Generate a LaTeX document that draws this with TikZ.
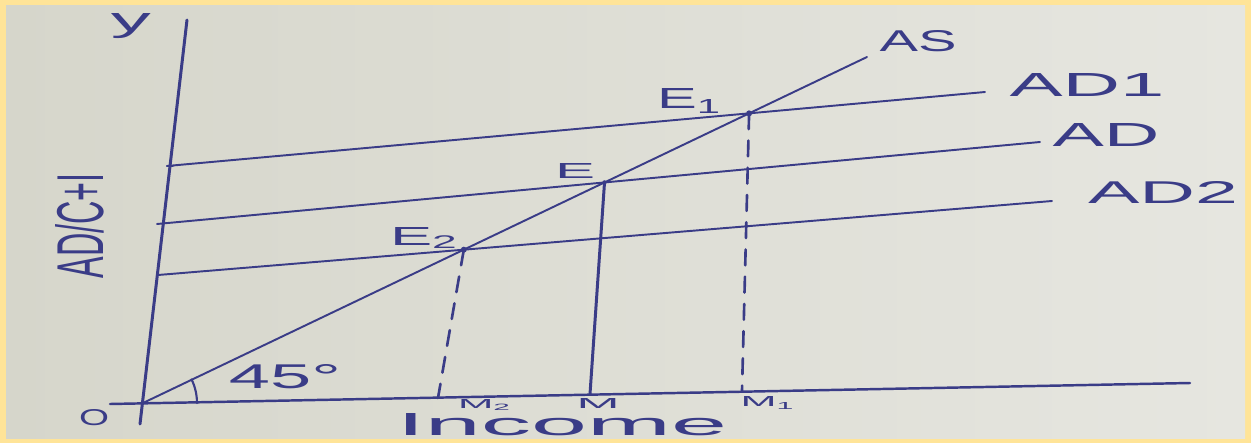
\documentclass[tikz,border=0pt]{standalone}
\usepackage{fontspec}
\setmainfont{Liberation Sans}
\usepackage{graphicx}
\usetikzlibrary{intersections}
\newlength\pxu
\setlength\pxu{0.02cm}
\newcommand\hw[3]{\resizebox{#1\pxu}{#2\pxu}{#3}}
\definecolor{borderc}{RGB}{255,228,152}
\definecolor{paperL}{RGB}{214,214,203}
\definecolor{paperR}{RGB}{230,230,224}
\definecolor{inkc}{RGB}{58,60,135}
\begin{document}
\begin{tikzpicture}[x=0.02cm,y=-0.02cm,
  ink/.style={draw=inkc,line cap=round},
  axisline/.style={ink,line width=1.7pt},
  curve/.style={ink,line width=1.1pt},
  dropdash/.style={ink,line width=1.5pt,dash pattern=on 9pt off 6.5pt},
  dropsolid/.style={ink,line width=1.7pt},
  lbl/.style={inner sep=0pt,text=inkc}]
\fill[borderc] (0,0) rectangle (1251,443);
\shade[left color=paperL,right color=paperR] (6,5) rectangle (1245,438);
\useasboundingbox (0,0) rectangle (1251,443);

% points
\coordinate (ytop) at (187,20);
\coordinate (ybot) at (140,424);
\coordinate (xl) at (110,404);
\coordinate (xr) at (1190,383);
\coordinate (O) at (143,403);
\coordinate (ASend) at (867,57);
\coordinate (AD1s) at (167,166);
\coordinate (AD1e) at (985,92);
\coordinate (ADs) at (157,224);
\coordinate (ADe) at (1040,142);
\coordinate (AD2s) at (158,275);
\coordinate (AD2e) at (1052,201);
\coordinate (M2f) at (438,398);
\coordinate (Mf) at (590,394);
\coordinate (M1f) at (742,391);

% axes
\draw[axisline] (ybot) -- (ytop);
\draw[ink,line width=1.4pt] (xl) -- (xr);

% curves
\draw[curve,name path=as] (O) -- (ASend);
\draw[curve,name path=ad1] (AD1s) -- (AD1e);
\draw[curve,name path=ad] (ADs) -- (ADe);
\draw[curve,name path=ad2] (AD2s) -- (AD2e);
\draw[ink,line width=1pt] (AD1s) -- ++(6,0);

\path[name intersections={of=as and ad1,by=E1p}];
\path[name intersections={of=as and ad,by=Ep}];
\path[name intersections={of=as and ad2,by=E2p}];

% drop lines
\draw[dropdash] (E2p) -- (M2f);
\draw[dropsolid] (Ep) -- (Mf);
\draw[dropdash] (E1p) -- (M1f);
\fill[inkc] (E1p) circle[radius=3];
\fill[inkc] (E2p) circle[radius=3];
\fill[inkc] (Ep) circle[radius=2.2];

% 45 degree arc
\draw[ink,line width=1.2pt] (O) ++(54,0) arc[start angle=0,end angle=-26,radius=54];

% labels
\node[lbl] (ylab) at (131,26) {\hw{40}{18}{y}};
\node[lbl] (olab) at (94,418) {\hw{30}{16}{O}};
\node[lbl,rotate=90] (vlab) at (80,226) {\hw{105}{48}{AD/C+I}};
\node[lbl] (anglab) at (285,377) {\hw{112}{24}{45°}};
\node[lbl] (aslab) at (918,41) {\hw{77}{21}{AS}};
\node[lbl] (ad1lab) at (1087,85) {\hw{155}{23}{AD1}};
\node[lbl] (adlab) at (1106,135) {\hw{107}{23}{AD}};
\node[lbl] (ad2lab) at (1163,192) {\hw{150}{22}{AD2}};
\node[lbl] (e1lab) at (690,101) {\hw{66}{20}{E\textsubscript{1}}};
\node[lbl] (elab) at (575,171) {\hw{40}{15}{E}};
\node[lbl] (e2lab) at (425,238) {\hw{70}{18}{E\textsubscript{2}}};
\node[lbl] (m2lab) at (485,405) {\hw{54}{9}{M\textsubscript{2}}};
\node[lbl] (mlab) at (598,403) {\hw{43}{10}{M}};
\node[lbl] (m1lab) at (768,403) {\hw{55}{10}{M\textsubscript{1}}};
\node[lbl] (inclab) at (562,425) {\hw{330}{22}{Income}};
\end{tikzpicture}
\end{document}
